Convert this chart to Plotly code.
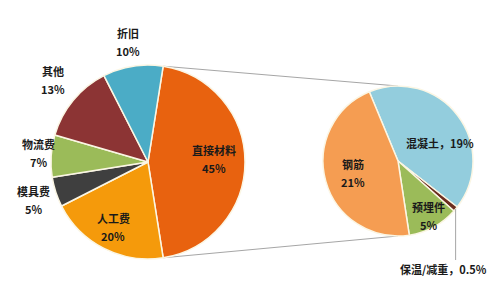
import math
import plotly.graph_objects as go

# ---- data ----
main_labels = ["直接材料", "人工费", "模具费", "物流费", "其他", "折旧"]
main_values = [45, 20, 5, 7, 13, 10]
sub_labels = ["混凝土", "保温/减重", "预埋件", "钢筋"]
sub_values = [19, 0.5, 5, 21]

# ---- style ----
main_colors = ["#E8620F", "#F59A0B", "#3F3F3F", "#9BBB59", "#8C3434", "#4BACC6"]
sub_colors = ["#93CDDD", "#6B2D1F", "#9BBB59", "#F59D52"]
main_rot, sub_rot = 9, -22.5
W, H = 501, 290
main_c, main_r = (148, 162), 97
sub_c, sub_r = (398, 161), 75
# label offsets (in radius units from pie centre), one-line flag
main_lab_off = [(0.68, -0.03), (-0.36, 0.67), (-1.18, 0.39), (-1.13, -0.09), (-0.98, -0.85), (-0.21, -1.24)]
sub_lab_off = [(0.56, -0.24), (0.61, 1.44), (0.41, 0.73), (-0.60, 0.16)]
sub_one_line = [True, True, False, False]
FONT = "Noto Sans CJK SC"


def fmt(v):
    return (f"{v:g}") + "%"


def dom(c, r):
    return dict(x=[(c[0] - r) / W, (c[0] + r) / W], y=[1 - (c[1] + r) / H, 1 - (c[1] - r) / H])


fig = go.Figure()
fig.add_trace(go.Pie(labels=main_labels, values=main_values, sort=False, direction="clockwise",
                     rotation=main_rot, textinfo="none", hoverinfo="label+value",
                     marker=dict(colors=main_colors, line=dict(color="#FBF6E4", width=1.5)),
                     domain=dom(main_c, main_r), showlegend=False))
fig.add_trace(go.Pie(labels=sub_labels, values=sub_values, sort=False, direction="clockwise",
                     rotation=sub_rot, textinfo="none", hoverinfo="label+value",
                     marker=dict(colors=sub_colors, line=dict(color="#FBF6E4", width=1.5)),
                     domain=dom(sub_c, sub_r), showlegend=False))


def px2paper(x, y):
    return x / W, 1 - y / H


anns = []


def add_label(c, r, off, name, val, one_line):
    x = c[0] + off[0] * r
    y = c[1] + off[1] * r
    f = dict(family=FONT, size=11, color="#1A1A1A")
    if one_line:
        px, py = px2paper(x, y)
        anns.append(dict(x=px, y=py, xref="paper", yref="paper", text=f"<b>{name}，{fmt(val)}</b>",
                         showarrow=False, font=f, xanchor="center", yanchor="middle"))
    else:
        for t, dy in ((name, -9), (fmt(val), 9)):
            px, py = px2paper(x, y + dy)
            anns.append(dict(x=px, y=py, xref="paper", yref="paper", text=f"<b>{t}</b>",
                             showarrow=False, font=f, xanchor="center", yanchor="middle"))


for n, v, o in zip(main_labels, main_values, main_lab_off):
    add_label(main_c, main_r, o, n, v, False)
for n, v, o, one in zip(sub_labels, sub_values, sub_lab_off, sub_one_line):
    add_label(sub_c, sub_r, o, n, v, one)

shapes = []
# connector lines between pies (from the edges of first slice)
a0 = math.radians(main_rot)
a1 = math.radians(main_rot + 360 * main_values[0] / sum(main_values))
for a, ry in ((a0, -1), (a1, 1)):
    x0, y0 = main_c[0] + main_r * math.sin(a), main_c[1] - main_r * math.cos(a)
    x1, y1 = sub_c[0], sub_c[1] + ry * sub_r
    p0, p1 = px2paper(x0, y0), px2paper(x1, y1)
    shapes.append(dict(type="line", xref="paper", yref="paper", x0=p0[0], y0=p0[1], x1=p1[0], y1=p1[1],
                       line=dict(color="#A6A6A6", width=1), layer="below"))

# leader for tiny slice
tot = sum(sub_values)
mid = math.radians(sub_rot + 360 * (sub_values[0] + sub_values[1] / 2) / tot)
lx, ly = sub_c[0] + sub_r * math.sin(mid), sub_c[1] - sub_r * math.cos(mid)
ey = sub_c[1] + sub_lab_off[1][1] * sub_r - 9
p0, p1 = px2paper(lx, ly), px2paper(lx, ey)
shapes.append(dict(type="line", xref="paper", yref="paper", x0=p0[0], y0=p0[1], x1=p1[0], y1=p1[1],
                   line=dict(color="#A6A6A6", width=1)))

fig.update_layout(width=W, height=H, margin=dict(l=0, r=0, t=0, b=0),
                  paper_bgcolor="white", plot_bgcolor="white",
                  annotations=anns, shapes=shapes, font=dict(family=FONT))
fig.write_html("out.html")
